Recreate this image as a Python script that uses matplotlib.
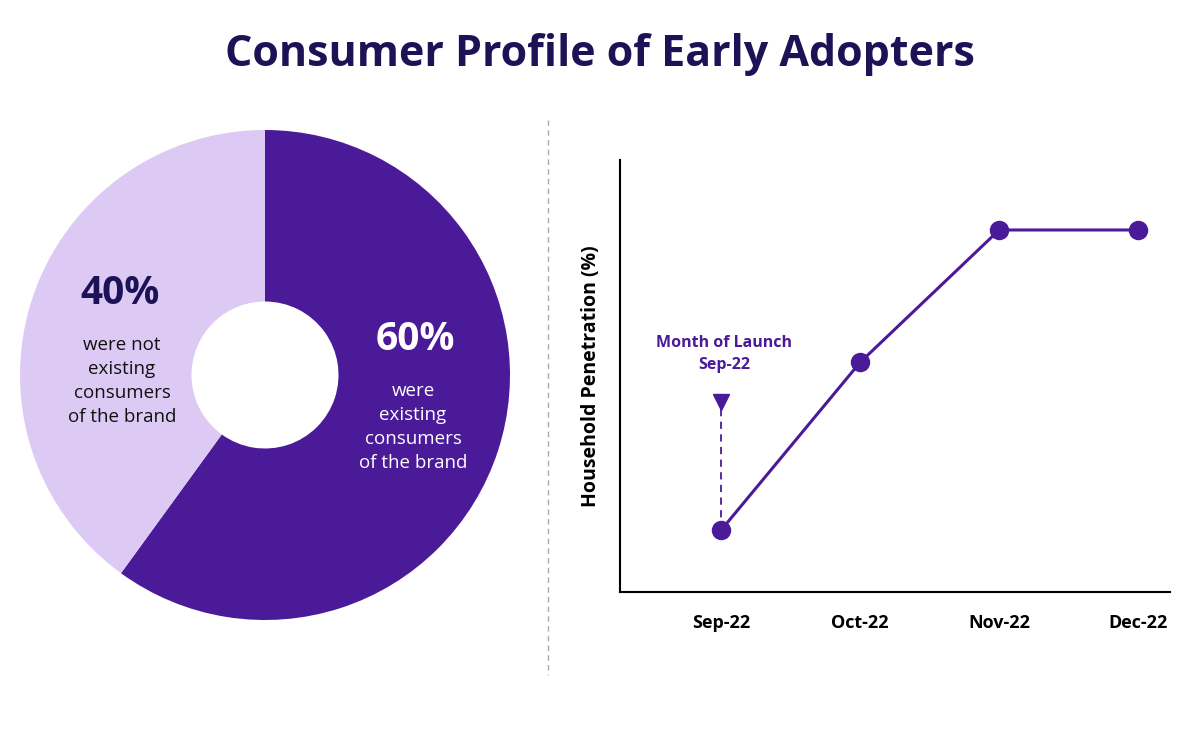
import matplotlib.pyplot as plt
from matplotlib.lines import Line2D

W, H = 1200, 729
dark = '#4a1a99'
light = '#dccaf5'
navy = '#1c1356'

shares = [60, 40]
months = ['Sep-22', 'Oct-22', 'Nov-22', 'Dec-22']
penetration = [14.4, 53.2, 83.8, 83.8]

def px(x, y):
    return x / W, 1 - y / H

fig = plt.figure(figsize=(W / 100, H / 100), dpi=100)
plt.rcParams['font.family'] = ['Open Sans', 'DejaVu Sans']

fig.text(*px(600, 55), 'Consumer Profile of Early Adopters', ha='center', va='center',
         fontsize=31, fontweight='bold', color=navy)

# donut
ax1 = fig.add_axes([20 / W, (H - 375 - 245) / H, 490 / W, 490 / H])
ax1.pie(shares, colors=[dark, light], startangle=90, counterclock=False,
        wedgeprops=dict(width=0.70, edgecolor='none'), radius=1)
ax1.set_xlim(-1, 1)
ax1.set_ylim(-1, 1)
ax1.axis('off')

fig.text(*px(415, 340), f'{shares[0]}%', ha='center', va='center', fontsize=28,
         fontweight='bold', color='white')
fig.text(*px(413, 427), 'were\nexisting\nconsumers\nof the brand', ha='center', va='center',
         fontsize=13.5, color='white', linespacing=1.45)
fig.text(*px(120, 293), f'{shares[1]}%', ha='center', va='center', fontsize=28,
         fontweight='bold', color=navy)
fig.text(*px(122, 381), 'were not\nexisting\nconsumers\nof the brand', ha='center', va='center',
         fontsize=13.5, color='#111111', linespacing=1.45)

# separator
fig.add_artist(Line2D([548 / W, 548 / W], [1 - 120 / H, 1 - 675 / H], transform=fig.transFigure,
                      color='#aaaaaa', lw=1, linestyle=(0, (4, 3))))

# line chart
ax2 = fig.add_axes([620 / W, 1 - 592 / H, 550 / W, 432 / H])
x = list(range(len(months)))
ax2.plot(x, penetration, color=dark, lw=2.2, marker='o', markersize=13)
ax2.set_xlim(-0.73, 3.23)
ax2.set_ylim(0, 100)
ax2.set_xticks(x)
ax2.set_xticklabels(months, fontsize=13, fontweight='bold')
ax2.tick_params(axis='x', length=0, pad=16)
ax2.set_yticks([])
for s in ['top', 'right']:
    ax2.spines[s].set_visible(False)
for s in ['left', 'bottom']:
    ax2.spines[s].set_linewidth(1.5)
ax2.set_ylabel('Household Penetration (%)', fontsize=14, fontweight='bold', labelpad=14)

tri_y = 42.5
ax2.plot([0, 0], [penetration[0], tri_y], color=dark, lw=1.3, linestyle=(0, (4, 3)))
ax2.plot(0, tri_y + 1.5, marker='v', color=dark, markersize=11)
ax2.text(0.02, 55, 'Month of Launch\nSep-22', ha='center', va='center', fontsize=11.5,
         fontweight='bold', color=dark, linespacing=1.5)

fig.savefig('out.png', dpi=100, facecolor='white')
